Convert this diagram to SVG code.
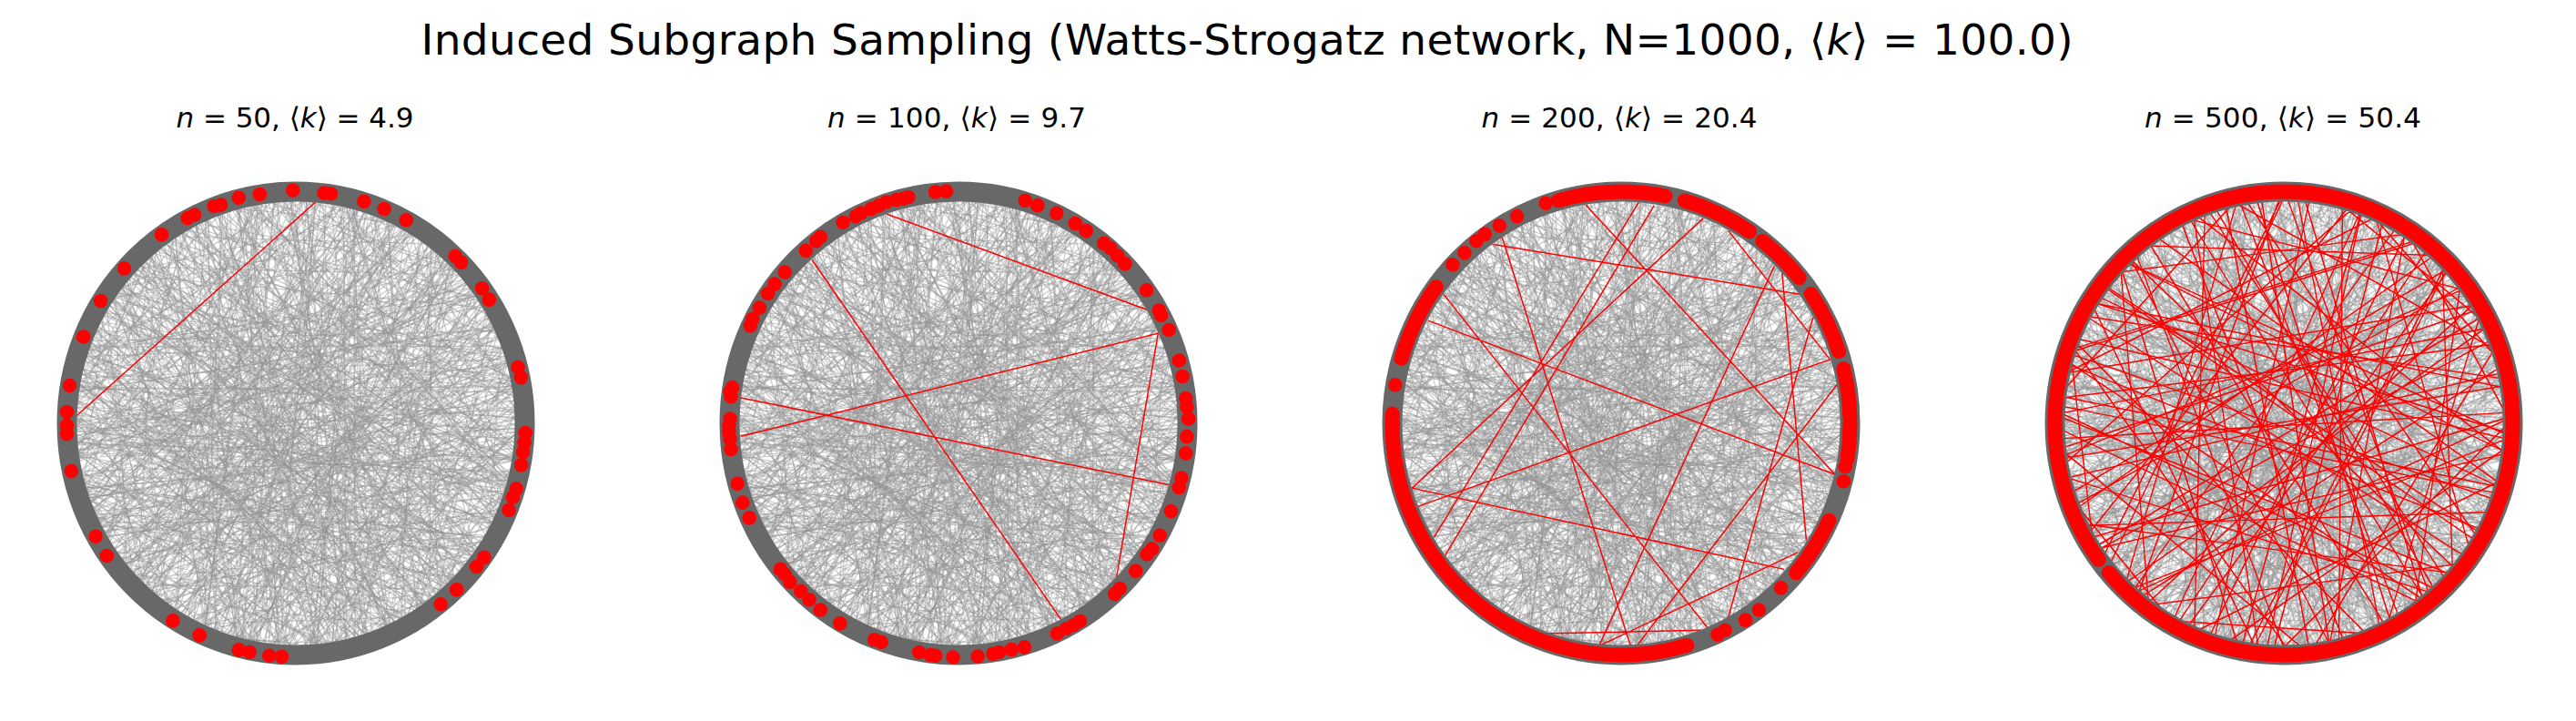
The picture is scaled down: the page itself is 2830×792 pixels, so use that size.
<svg xmlns="http://www.w3.org/2000/svg" xmlns:xlink="http://www.w3.org/1999/xlink" width="2830" height="792" viewBox="0 0 2830 792">
<style>
.t{font-family:"DejaVu Sans","Liberation Sans",sans-serif;fill:#000}
.g{fill:none;stroke:#8c8c8c;stroke-opacity:0.43;stroke-width:1.2}
.ring{fill:none;stroke:#686868;stroke-width:22}
.rl{fill:none;stroke:#ff0000;stroke-width:1.4}
.rz{fill:none;stroke:#ff0000;stroke-width:4}
.dz{fill:none;stroke:#ff0000;stroke-width:42;stroke-linecap:round}
.arc{fill:none;stroke:#ff0000;stroke-width:16;stroke-linecap:round}
</style>
<defs>
<clipPath id="cc"><ellipse cx="0" cy="0" rx="251" ry="254"/></clipPath>
<path id="gb" d="M-300-270 300-95M-300-240 300 130M-300-215 300-20M-300-190 300 250M-300-175 300-160M-300-150 300 60M-300-130 300-240M-300-110 300 190M-300-95 300-30M-300-80 300 280M-300-60 300-200M-300-45 300 95M-300-25 300-120M-300-10 300 215M-300 5 300-260M-300 20 300 40M-300 35 300-75M-300 50 300 170M-300 65 300-185M-300 80 300 265M-300 95 300-10M-300 110 300-140M-300 125 300 75M-300 140 300-230M-300 155 300 210M-300 170 300-60M-300 185 300 120M-300 200 300-170M-300 215 300 15M-300 230 300 250M-300 245 300-110M-300 260 300 160M-300 275 300-15M-300-285 300 55M-300-255 300-205M-300-225 300 180M-300-200 300-50M-300-165 300 100M-300-140 300-275M-300-120 300 20M-300-85 300 140M-300-70 300-150M-300-35 300 255M-300-15 300-70M-300 10 300 120M-300 30 300-200M-300 45 300 225M-300 70 300-40M-300 90 300 190M-300 115 300-255M-300 135 300 30M-300 150 300-95M-300 175 300 245M-300 195 300-20M-300 210 300 100M-300 235 300-190M-300 255 300 70M-300 280 300-130M-300-245 300-5M-300-205 300 220M-260-300-40 300M-230-300 150 300M-205-300-180 300M-180-300 60 300M-160-300 240 300M-140-300-90 300M-115-300 130 300M-100-300-250 300M-75-300 20 300M-55-300 200 300M-40-300-150 300M-20-300 90 300M0-300-230 300M15-300 260 300M30-300-60 300M50-300 110 300M70-300-200 300M85-300 35 300M100-300 230 300M120-300-120 300M140-300 160 300M160-300-30 300M180-300-240 300M200-300 80 300M220-300-100 300M240-300 200 300M260-300-10 300M-280-300 170 300M-250-300-130 300M-220-300 50 300M-190-300-260 300M-170-300 120 300M-130-300 270 300M-105-300-60 300M-65-300 175 300M-30-300-110 300M-5-300 40 300M25-300-190 300M45-300 210 300M60-300-20 300M95-300 140 300M110-300-260 300M130-300 60 300M150-300-170 300M175-300 250 300M190-300-70 300M215-300 120 300M235-300-220 300M250-300 40 300M275-300-150 300M-265-300 225 300M-150-300-10 300M-10-300-280 300M125-300 285 300M265-300 110 300"/>
<g id="bg" class="g" clip-path="url(#cc)">
<use href="#gb"/>
<use href="#gb" transform="rotate(29 31 -22) scale(1.1)"/>
<use href="#gb" transform="rotate(58 -27 18) scale(1.1)"/>
<use href="#gb" transform="rotate(-31 18 35) scale(1.1)"/>
<use href="#gb" transform="rotate(103 -38 -29) scale(1.1)"/>
<use href="#gb" transform="rotate(-62 40 12) scale(1.1)"/>
</g>
<path id="rb" d="M-300-240 300 60M-300-200 300-180M-300-170 300 210M-300-130 300-40M-300-90 300 150M-300-60 300-250M-300-30 300 90M-300 0 300-120M-300 40 300 230M-300 75 300-70M-300 100 300 180M-300 130 300-210M-300 160 300 20M-300 190 300-130M-300 220 300 140M-300 250 300-30M-300-275 300-120M-300-220 300 190M-300-150 300-230M-300-110 300 30M-300-20 300 270M-300 20 300-15M-300 60 300-190M-300 115 300 95M-300 145 300-280M-300 205 300 245M-300 235 300-5M-300 265 300-160M-300-185 300 100M-300-45 300-145M-230-300 80 300M-190-300-140 300M-150-300 220 300M-110-300-20 300M-70-300 160 300M-35-300-210 300M5-300 120 300M40-300-90 300M80-300 250 300M115-300-160 300M150-300 40 300M185-300-250 300M215-300 130 300M245-300-60 300M-260-300-190 300M-205-300 20 300M-125-300 260 300M-85-300-100 300M-15-300 200 300M25-300-260 300M65-300 60 300M100-300-30 300M170-300 190 300M230-300-170 300M270-300 90 300"/>
</defs>
<rect width="2830" height="792" fill="#ffffff"/>
<g id="titles">
<text class="t" x="1370" y="60" font-size="47" text-anchor="middle" textLength="1815">Induced Subgraph Sampling (Watts-Strogatz network, N=1000, ⟨<tspan font-style="italic">k</tspan>⟩ = 100.0)</text>
<text class="t" x="324" y="140" font-size="31" text-anchor="middle" textLength="261"><tspan font-style="italic">n</tspan> = 50, ⟨<tspan font-style="italic">k</tspan>⟩ = 4.9</text>
<text class="t" x="1051" y="140" font-size="31" text-anchor="middle" textLength="284"><tspan font-style="italic">n</tspan> = 100, ⟨<tspan font-style="italic">k</tspan>⟩ = 9.7</text>
<text class="t" x="1779" y="140" font-size="31" text-anchor="middle" textLength="303"><tspan font-style="italic">n</tspan> = 200, ⟨<tspan font-style="italic">k</tspan>⟩ = 20.4</text>
<text class="t" x="2508" y="140" font-size="31" text-anchor="middle" textLength="304"><tspan font-style="italic">n</tspan> = 500, ⟨<tspan font-style="italic">k</tspan>⟩ = 50.4</text>
</g>
<g id="panel1">
<use href="#bg" transform="translate(325,465)"/>
<g id="edges1" transform="translate(40,170) scale(0.37175)"><path class="rz" d="M120 770 825 140"/></g>
<ellipse class="ring" cx="325" cy="465" rx="251.5" ry="254.5"/>
<g id="nodes1" transform="translate(40,170) scale(0.37175)"><path class="dz" d="M758 105h0M660 117h0M598 127h0M545 148h0M525 152h0M467 178h0M447 187h0M370 236h0M260 336h0M190 432h0M139 538h0M98 682h0M90 760h0M90 800h0M90 825h0M103 935h0M175 1128h0M208 1185h0M403 1377h0M482 1420h0M598 1463h0M630 1470h0M688 1480h0M725 1483h0M850 113h0M870 115h0M968 138h0M1028 160h0M1093 193h0M1238 300h0M1255 318h0M1317 395h0M1338 428h0M1423 628h0M1432 658h0M1445 822h0M1442 850h0M1438 878h0M1433 917h0M1418 987h0M1408 1012h0M1396 1050h0M1323 1190h0M1301 1217h0M1242 1285h0M1195 1328h0"/></g>
</g>
<g id="panel2">
<use href="#bg" transform="translate(1053,465)"/>
<g id="edges2" transform="translate(760,170) scale(0.37175)"><path class="rz" d="M575 175 1345 458M355 310 1092 1375M145 718 1410 975M145 832 1378 528 1255 1250"/></g>
<ellipse class="ring" cx="1053" cy="465" rx="251.5" ry="254.5"/>
<g id="nodes2" transform="translate(760,170) scale(0.37175)"><path class="dz" d="M720 110h0M752 108h0M640 125h0M625 130h0M605 133h0M575 140h0M553 150h0M530 160h0M500 172h0M485 182h0M447 200h0M380 243h0M368 255h0M337 283h0M275 347h0M245 382h0M225 410h0M200 452h0M180 485h0M173 505h0M120 688h0M113 700h0M116 715h0M113 780h0M110 800h0M110 820h0M113 840h0M116 870h0M135 972h0M150 1028h0M170 1073h0M262 1225h0M275 1240h0M290 1262h0M322 1290h0M347 1315h0M380 1345h0M438 1385h0M540 1433h0M560 1440h0M672 1470h0M705 1478h0M720 1480h0M772 1485h0M845 1482h0M890 1475h0M908 1470h0M945 1462h0M983 1455h0M1080 1415h0M1107 1400h0M1128 1390h0M1147 1378h0M1250 1298h0M1265 1282h0M1312 1230h0M1345 1180h0M1360 1165h0M1383 1125h0M1416 1053h0M1440 983h0M1447 955h0M1460 882h0M1463 833h0M1468 780h0M1463 745h0M1460 720h0M1450 655h0M1440 608h0M1410 518h0M1387 475h0M1381 460h0M1344 400h0M1280 322h0M1258 298h0M1237 276h0M1218 262h0M1165 225h0M1133 203h0M1078 173h0M1022 150h0M985 135h0"/></g>
</g>
<g id="panel3">
<use href="#bg" transform="translate(1781,465)"/>
<g id="edges3" transform="translate(1490,170) scale(0.37175)"><path class="rz" d="M405 265 1310 412M430 240 810 1450M678 148 1415 945M835 140 230 1130M880 150 262 1185M1025 188 165 985 1265 1225M1100 225 1400 605 180 1040M1235 330 718 1450M1258 345 1330 1140M212 490 1415 945M258 412 1040 1400M1420 680 830 1450M1350 480 1090 1400M1305 1175 720 1450M545 1415 1020 1405"/></g>
<ellipse class="ring" cx="1781" cy="465" rx="251.5" ry="254.5"/>
<ellipse class="arc" cx="1781" cy="465" rx="251.5" ry="254.5" stroke-dasharray="39.6 70.4 68.2 145.6 481.2 61.6 88 167.1 118.8 22 79.2 17.6 57.2 22 70.4 19.8 55"/>
<g id="nodes3" transform="translate(1490,170) scale(0.37175)"><path class="dz" d="M1445 922h0M1440 965h0M1255 1280h0M1190 1345h0M1150 1375h0M1090 1405h0M1068 1418h0M115 680h0M285 325h0M320 290h0M355 255h0M380 235h0M423 210h0M475 182h0M560 143h0"/></g>
</g>
<g id="panel4">
<use href="#bg" transform="translate(2509,465)"/>
<g id="edges4" class="rl" clip-path="url(#cc)" transform="translate(2509,465)">
<use href="#rb"/>
<use href="#rb" transform="rotate(47 30 -20) scale(1.1)"/>
</g>
<ellipse class="ring" cx="2509" cy="465" rx="251.5" ry="254.5"/>
<ellipse id="nodes4" class="arc" cx="2509" cy="465" rx="251.5" ry="254.5" stroke-dasharray="616.7 18 955"/>
</g>
</svg>
